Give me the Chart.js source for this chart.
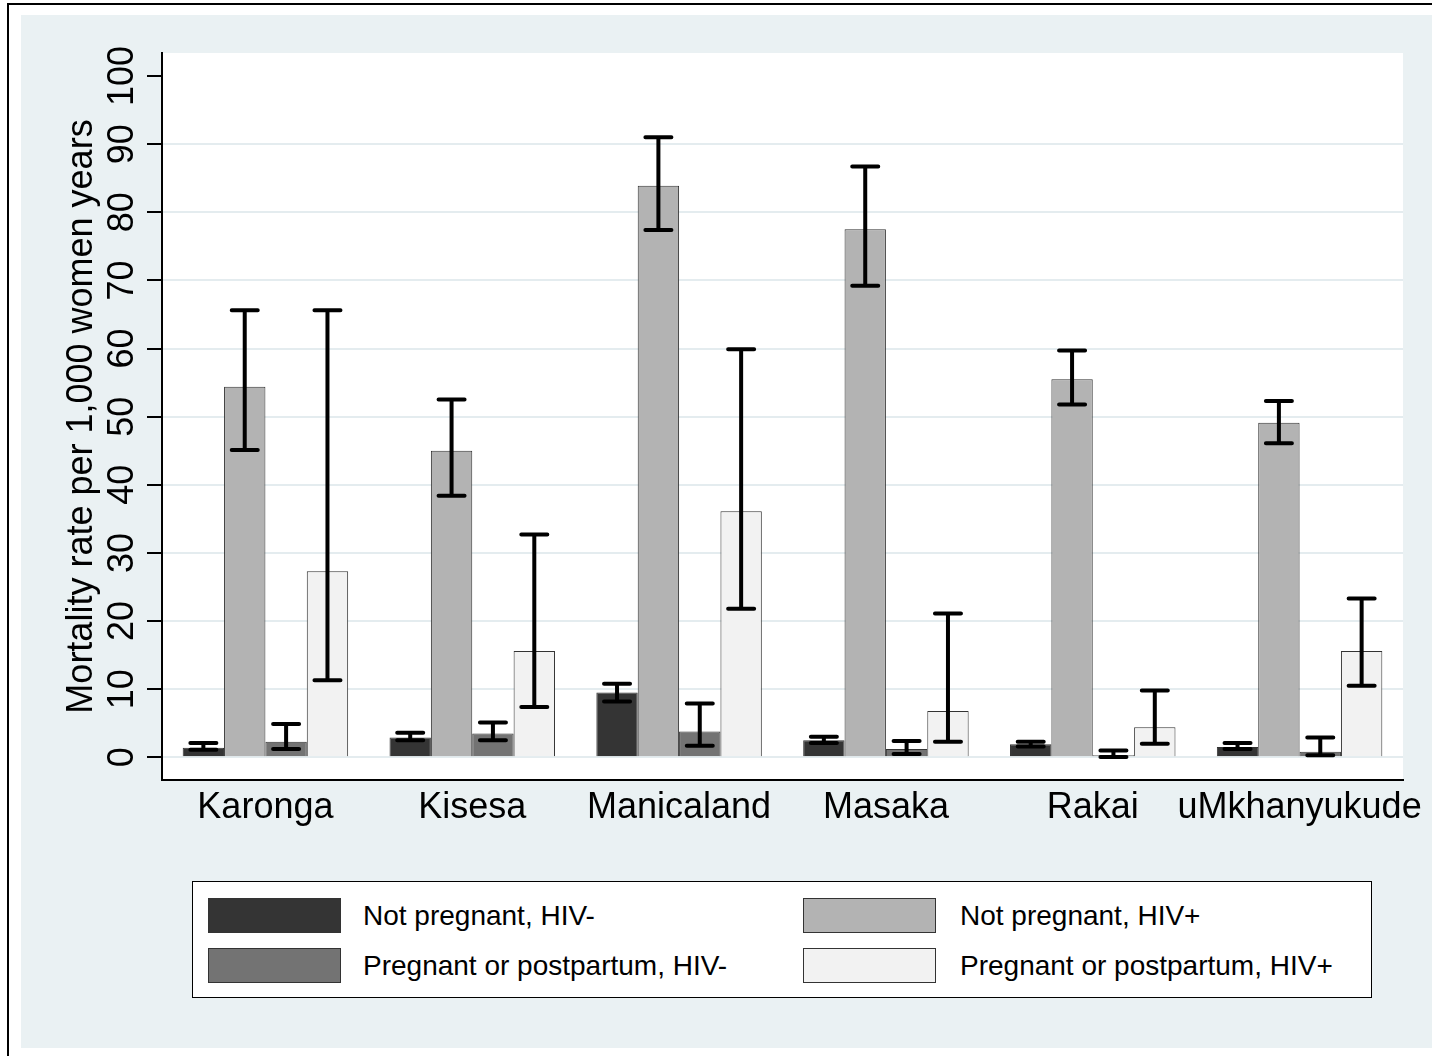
<!DOCTYPE html>
<html>
<head>
<meta charset="utf-8">
<script src="https://cdn.jsdelivr.net/npm/chart.js@4.4.1/dist/chart.umd.min.js"></script>
<style>
  html, body { margin: 0; padding: 0; background: #fff; width: 1432px; height: 1056px; overflow: hidden;
    font-family: "Liberation Sans", Arial, Helvetica, sans-serif; }
  #frame { position: absolute; left: 7px; top: 3px; width: 1500px; height: 1100px;
    border-top: 2px solid #000; border-left: 2px solid #000; }
  #panel { position: absolute; left: 21px; top: 15px; width: 1411px; height: 1033px; background: #eaf1f3; }
  #chart { position: absolute; left: 0; top: 0; }
  #legend { position: absolute; left: 171px; top: 866px; width: 1178px; height: 115px;
    background: #fff; border: 1px solid #000; }
  .sw { position: absolute; width: 131px; height: 33px; border: 1px solid #333; }
  .lt { position: absolute; font-size: 28px; line-height: 35px; color: #000; white-space: nowrap; }
</style>
</head>
<body>
<div id="frame"></div>
<div id="panel">
  <canvas id="chart" width="1411" height="1033"></canvas>
  <div id="legend"></div>
</div>
<script>
// Study sites
const categories = ['Karonga', 'Kisesa', 'Manicaland', 'Masaka', 'Rakai', 'uMkhanyukude'];

// Series labels
const seriesNames = [
  'Not pregnant, HIV-',
  'Not pregnant, HIV+',
  'Pregnant or postpartum, HIV-',
  'Pregnant or postpartum, HIV+'
];

// Mortality rates per 1,000 women years
const notPregNeg = [1.4, 2.9, 9.5, 2.5, 1.9, 1.5];
const notPregPos = [54.4, 45.0, 83.9, 77.5, 55.5, 49.1];
const pregNeg    = [2.3, 3.5, 3.8, 1.2, 0.3, 0.8];
const pregPos    = [27.3, 15.6, 36.1, 6.8, 4.4, 15.6];

// 95% confidence limits
const notPregNegLo = [1.1, 2.5, 8.2, 2.1, 1.6, 1.2];
const notPregNegHi = [2.1, 3.6, 10.8, 3.0, 2.3, 2.1];
const notPregPosLo = [45.1, 38.4, 77.4, 69.2, 51.8, 46.1];
const notPregPosHi = [65.6, 52.5, 91.0, 86.7, 59.7, 52.3];
const pregNegLo    = [1.2, 2.5, 1.7, 0.5, 0.05, 0.3];
const pregNegHi    = [4.9, 5.1, 7.9, 2.4, 1.0, 2.9];
const pregPosLo    = [11.3, 7.4, 21.8, 2.3, 2.0, 10.5];
const pregPosHi    = [65.6, 32.7, 59.9, 21.1, 9.8, 23.3];

// Y axis tick labels
const yTicks = [0, 10, 20, 30, 40, 50, 60, 70, 80, 90, 100];

const FONT = '"Liberation Sans", Arial, Helvetica, sans-serif';
const fills = ['#343434', '#b3b3b3', '#737373', '#f2f2f2'];
const values = [notPregNeg, notPregPos, pregNeg, pregPos];
const lows = [notPregNegLo, notPregPosLo, pregNegLo, pregPosLo];
const highs = [notPregNegHi, notPregPosHi, pregNegHi, pregPosHi];

// White plot region behind the bars
const plotBg = {
  id: 'plotBg',
  beforeDraw(chart) {
    const a = chart.chartArea, c = chart.ctx;
    c.save();
    c.fillStyle = '#ffffff';
    c.fillRect(a.left, a.top, a.right - a.left, a.bottom - a.top);
    c.restore();
  }
};

// Confidence interval whiskers on each bar
const ciBars = {
  id: 'ciBars',
  afterDatasetsDraw(chart) {
    const c = chart.ctx, y = chart.scales.y;
    c.save();
    c.strokeStyle = '#000';
    c.lineWidth = 4;
    c.lineCap = 'round';
    chart.data.datasets.forEach((ds, i) => {
      const meta = chart.getDatasetMeta(i);
      meta.data.forEach((bar, j) => {
        const x = bar.x;
        const yl = y.getPixelForValue(lows[i][j]);
        const yh = y.getPixelForValue(highs[i][j]);
        const hw = 13;
        c.beginPath();
        c.moveTo(x, yl); c.lineTo(x, yh);
        c.moveTo(x - hw, yl); c.lineTo(x + hw, yl);
        c.moveTo(x - hw, yh); c.lineTo(x + hw, yh);
        c.stroke();
      });
    });
    c.restore();
  }
};

// Vertical (rotated) y tick labels
const yLabels = {
  id: 'yLabels',
  afterDraw(chart) {
    const c = chart.ctx, s = chart.scales.y;
    c.save();
    c.fillStyle = '#000';
    c.font = '36px ' + FONT;
    c.textAlign = 'center';
    c.textBaseline = 'alphabetic';
    yTicks.forEach(v => {
      const py = s.getPixelForValue(v);
      c.save();
      c.translate(112, py);
      c.rotate(-Math.PI / 2);
      c.fillText(String(v), 0, 0);
      c.restore();
    });
    c.restore();
  }
};

new Chart(document.getElementById('chart'), {
  type: 'bar',
  data: {
    labels: categories,
    datasets: seriesNames.map((name, i) => ({
      label: name,
      data: values[i],
      backgroundColor: fills[i],
      borderColor: '#333333',
      borderWidth: 1,
      categoryPercentage: 0.8,
      barPercentage: 1.0
    }))
  },
  options: {
    responsive: false,
    animation: false,
    devicePixelRatio: 1,
    layout: { padding: { left: 36, top: 38, right: 29, bottom: 208 } },
    plugins: { legend: { display: false }, tooltip: { enabled: false } },
    scales: {
      x: {
        type: 'category',
        offset: true,
        grid: { display: false, drawTicks: false },
        border: { display: true, color: '#000', width: 2 },
        ticks: { color: '#000', font: { family: FONT, size: 36 }, padding: 6, maxRotation: 0, autoSkip: false },
        afterFit(s) { s.height = 60; s.paddingLeft = 0; s.paddingRight = 0; }
      },
      y: {
        type: 'linear',
        min: -3.332,
        max: 103.376,
        afterBuildTicks(s) { s.ticks = yTicks.map(v => ({ value: v })); },
        grid: {
          color: ctx => (ctx.tick && ctx.tick.value === 100) ? 'rgba(0,0,0,0)' : '#e4ecef',
          lineWidth: 2,
          drawTicks: true,
          tickLength: 15,
          tickColor: '#000',
          tickWidth: 2
        },
        border: { color: '#000', width: 2 },
        ticks: { display: false },
        title: {
          display: true,
          text: 'Mortality rate per 1,000 women years',
          color: '#000',
          font: { family: FONT, size: 36 },
          padding: { top: 3, bottom: 0 }
        },
        afterFit(s) { s.width = 105; }
      }
    }
  },
  plugins: [plotBg, ciBars, yLabels]
});

// Legend: two columns, two rows
const legend = document.getElementById('legend');
const swX = [15, 610], txX = [170, 767], rowY = [16, 66];
seriesNames.forEach((name, i) => {
  const col = i % 2, row = Math.floor(i / 2);
  const sw = document.createElement('div');
  sw.className = 'sw';
  sw.style.left = swX[col] + 'px';
  sw.style.top = rowY[row] + 'px';
  sw.style.background = fills[i];
  legend.appendChild(sw);
  const t = document.createElement('div');
  t.className = 'lt';
  t.style.left = txX[col] + 'px';
  t.style.top = rowY[row] + 'px';
  t.textContent = name;
  legend.appendChild(t);
});
</script>
</body>
</html>
